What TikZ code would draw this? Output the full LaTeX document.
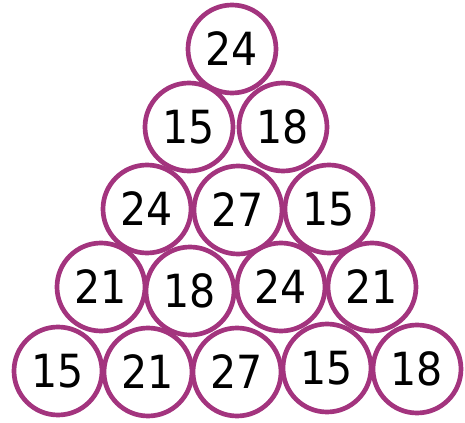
\documentclass[tikz,border=0pt]{standalone}
\usepackage{fontspec}
\setmainfont{DejaVu Sans Condensed}
\usetikzlibrary{positioning}
\definecolor{ring}{RGB}{163,52,126}
\tikzset{
  ball/.style ={draw=ring, circle, line width=4pt, inner sep=0pt,
                minimum size=2.64cm, font=\fontsize{39}{44}\selectfont},
}

\begin{document}
\begin{tikzpicture}[x=0.03cm, y=-0.03cm]
\useasboundingbox (0,0) rectangle (465,423);

% Pyramid of numbered circles, top row first
\foreach \n/\x/\y/\v in {1/232/49/24,
                         2/189/127/15, 3/283/127/18,
                         4/147/209/24, 5/238/210/27, 6/329/209/15,
                         7/101/287/21, 8/190/291/18, 9/281/287/24, 10/372/287/21,
                         11/58/371/15, 12/148/372/21, 13/237/372/27, 14/327/368/15, 15/417/369/18} {
  \node[ball] (C\n) at (\x, \y) {\v};
}

\end{tikzpicture}
\end{document}
